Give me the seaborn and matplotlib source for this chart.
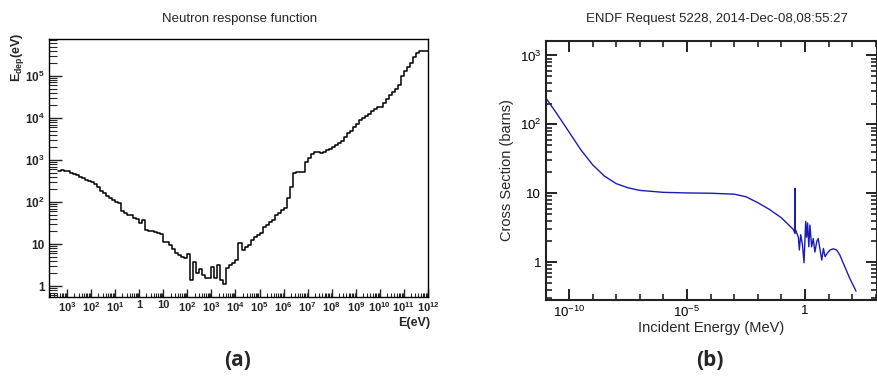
import numpy as np
import pandas as pd
import matplotlib
matplotlib.use("Agg")
import matplotlib.pyplot as plt
import matplotlib.ticker as mticker
import seaborn as sns

# ---------------- data: panel (a) histogram ----------------
bin_log_start = -3.375          # log10 of first bin edge (eV)
bin_log_width = 0.125           # 8 bins per decade
edep_values = [
    550, 575, 560, 550, 500, 470, 435, 400,
    365, 340, 315, 295, 270, 230, 180, 160,
    138, 123, 112, 102, 95, 60, 55, 50,
    48, 42, 40, 32, 37, 22, 20.5, 20,
    19, 18.5, 17.5, 11, 11, 9.5, 7.6, 6.0,
    5.5, 5.0, 4.7, 5.8, 1.4, 3.8, 2.0, 2.5,
    1.8, 1.55, 1.55, 2.9, 1.55, 3.2, 1.4, 1.1,
    2.7, 3.2, 3.5, 4.2, 10.5, 7.2, 8.3, 9.5,
    12.5, 15, 16.5, 18, 26, 28, 34, 38,
    48, 54, 63, 74, 126, 230, 490, 525,
    525, 525, 910, 1120, 1380, 1580, 1580, 1450,
    1580, 1740, 1860, 2040, 2290, 2510, 2880, 3550,
    4370, 5010, 6170, 7080, 8900, 9770, 11200, 12600,
    14800, 16600, 17800, 18600, 22400, 28200, 35500, 41700,
    50100, 60300, 100000, 132000, 166000, 209000, 282000, 355000,
    398000, 398000, 398000,
]
a_xtick_values = [1e-3, 1e-2, 1e-1, 1, 10, 1e2, 1e3, 1e4, 1e5, 1e6, 1e7, 1e8, 1e9, 1e10, 1e11, 1e12]
a_xtick_labels = ["10^3", "10^2", "10^1", "1", "10", "10^2", "10^3", "10^4", "10^5", "10^6",
                  "10^7", "10^8", "10^9", "10^10", "10^11", "10^12"]
a_ytick_values = [1, 10, 1e2, 1e3, 1e4, 1e5]
a_ytick_labels = ["1", "10", "10^2", "10^3", "10^4", "10^5"]

# ---------------- data: panel (b) cross section ----------------
energy_mev = [1.07e-11, 3.16e-11, 1e-10, 3.16e-10, 1e-9, 3.16e-9, 1e-8, 3.16e-8, 1e-7,
              1e-6, 1e-5, 1e-4, 1e-3, 3.16e-3, 1e-2, 3.16e-2, 0.1, 0.316, 0.380,
              0.380, 0.388, 0.400, 0.525, 0.575, 0.66, 0.78, 0.91, 1.07, 1.17, 1.29,
              1.45, 1.62, 1.91, 2.24, 2.63, 3.16, 3.63, 4.37, 5.13, 6.03, 7.08, 8.71,
              11.5, 15.8, 21.9, 30.2, 49, 79, 145]
xs_barns = [240, 141, 78, 43, 26, 17.8, 13.8, 12.0, 11.0,
            10.3, 10.1, 10.0, 9.7, 8.9, 7.3, 5.8, 4.4, 3.0, 2.6,
            11.8, 2.7, 2.9, 2.3, 1.5, 2.5, 1.8, 0.98, 3.9, 2.3, 3.7,
            1.67, 3.45, 1.67, 2.2, 1.4, 2.0, 2.2, 1.5, 1.07, 1.58, 1.2, 1.34,
            1.5, 1.56, 1.5, 1.26, 0.85, 0.58, 0.38]
b_xtick_values = [1e-10, 1e-5, 1]
b_xtick_labels = ["10^-10", "10^-5", "1"]
b_ytick_values = [1, 10, 1e2, 1e3]
b_ytick_labels = ["1", "10", "10^2", "10^3"]

# ---------------- style ----------------
sns.set_style("ticks")
plt.rcParams["font.family"] = ["Liberation Sans", "DejaVu Sans"]
plt.rcParams["mathtext.fontset"] = "custom"
plt.rcParams["mathtext.rm"] = "Liberation Sans"
plt.rcParams["mathtext.it"] = "Liberation Sans:italic"
plt.rcParams["mathtext.bf"] = "Liberation Sans:bold"


def to_math(lbl, bold=False):
    if "^" not in lbl:
        return lbl
    base, exp = lbl.split("^")
    if bold:
        return r"$\mathbf{%s}^{\mathbf{%s}}$" % (base, exp)
    return r"$\mathrm{%s}^{\mathrm{%s}}$" % (base, exp.replace("-", "{-}"))


fig = plt.figure(figsize=(8.78, 3.76), dpi=100)

# ---------- panel (a) ----------
ax1 = fig.add_axes([49 / 878, 1 - 297 / 376, 379 / 878, 258 / 376])
n_bins = len(edep_values)
edges = 10 ** (bin_log_start + bin_log_width * np.arange(n_bins + 1))
df_a = pd.DataFrame({"E": edges, "Edep": list(edep_values) + [edep_values[-1]]})
sns.lineplot(data=df_a, x="E", y="Edep", ax=ax1, drawstyle="steps-post",
             color="black", lw=1.1, estimator=None, sort=False)
ax1.set_xscale("log")
ax1.set_yscale("log")
ax1.set_xlim(10 ** -3.75, 1e12)
ax1.set_ylim(10 ** -0.26, 10 ** 5.88)
ax1.xaxis.set_major_locator(mticker.FixedLocator(a_xtick_values))
ax1.xaxis.set_major_formatter(mticker.FixedFormatter([to_math(l, True) for l in a_xtick_labels]))
ax1.xaxis.set_minor_locator(mticker.LogLocator(base=10, subs=np.arange(2, 10), numticks=100))
ax1.xaxis.set_minor_formatter(mticker.NullFormatter())
ax1.yaxis.set_major_locator(mticker.FixedLocator(a_ytick_values))
ax1.yaxis.set_major_formatter(mticker.FixedFormatter([to_math(l, True) for l in a_ytick_labels]))
ax1.yaxis.set_minor_locator(mticker.LogLocator(base=10, subs=np.arange(2, 10), numticks=100))
ax1.yaxis.set_minor_formatter(mticker.NullFormatter())
ax1.tick_params(axis="x", which="major", direction="in", length=6, width=1.0, labelsize=8, pad=2.5)
ax1.tick_params(axis="x", which="minor", direction="in", length=3, width=0.8)
ax1.tick_params(axis="y", which="major", direction="in", length=9, width=1.0, labelsize=8.5, pad=3)
ax1.tick_params(axis="y", which="minor", direction="in", length=5.5, width=0.8)
for lab in ax1.get_xticklabels() + ax1.get_yticklabels():
    lab.set_fontweight("bold")
for sp in ax1.spines.values():
    sp.set_visible(True)
    sp.set_linewidth(1.0)
    sp.set_color("black")
ax1.set_xlabel("")
ax1.set_ylabel("")
ax1.text(1.005, -0.078, "E(eV)", transform=ax1.transAxes, ha="right", va="top",
         fontsize=9, fontweight="bold")
ax1.text(-0.082, 1.025, r"$\mathbf{E_{dep}(eV)}$", transform=ax1.transAxes, ha="center", va="top",
         rotation=90, fontsize=9)
fig.text(240 / 878, 1 - 19 / 376, "Neutron response function", ha="center", va="center", fontsize=9.5)
fig.text(238 / 878, 1 - 360 / 376, "(a)", ha="center", va="center", fontsize=15,
         fontweight="bold", family=["Open Sans", "DejaVu Sans"])

# ---------- panel (b) ----------
ax2 = fig.add_axes([546 / 878, 1 - 300 / 376, 331 / 878, 259 / 376])
df_b = pd.DataFrame({"E": energy_mev, "xs": xs_barns})
sns.lineplot(data=df_b, x="E", y="xs", ax=ax2, color="#1c1cb4", lw=1.0,
             estimator=None, sort=False)
ax2.set_xscale("log")
ax2.set_yscale("log")
ax2.set_xlim(10 ** -10.97, 10 ** 3.05)
ax2.set_ylim(10 ** -0.55, 10 ** 3.21)
ax2.xaxis.set_major_locator(mticker.FixedLocator(b_xtick_values))
ax2.xaxis.set_major_formatter(mticker.FixedFormatter([to_math(l) for l in b_xtick_labels]))
b_minor = [10.0 ** k for k in range(-11, 4) if 10.0 ** k not in b_xtick_values]
ax2.xaxis.set_minor_locator(mticker.FixedLocator(b_minor))
ax2.xaxis.set_minor_formatter(mticker.NullFormatter())
ax2.yaxis.set_major_locator(mticker.FixedLocator(b_ytick_values))
ax2.yaxis.set_major_formatter(mticker.FixedFormatter([to_math(l) for l in b_ytick_labels]))
ax2.yaxis.set_minor_locator(mticker.LogLocator(base=10, subs=np.arange(2, 10), numticks=100))
ax2.yaxis.set_minor_formatter(mticker.NullFormatter())
ax2.tick_params(which="both", direction="in", top=True, right=True, colors="#222222",
                labelcolor="black")
ax2.tick_params(which="major", length=8, width=1.4, labelsize=9.5)
ax2.tick_params(which="minor", length=4.5, width=1.2)
for sp in ax2.spines.values():
    sp.set_visible(True)
    sp.set_linewidth(1.5)
    sp.set_color("#222222")
ax2.set_xlabel("Incident Energy (MeV)", fontsize=10.5, labelpad=1)
ax2.set_ylabel("Cross Section (barns)", fontsize=10.5, labelpad=4)
fig.text(717 / 878, 1 - 19 / 376, "ENDF Request 5228, 2014-Dec-08,08:55:27", ha="center",
         va="center", fontsize=9.5)
fig.text(710 / 878, 1 - 361 / 376, "(b)", ha="center", va="center", fontsize=15,
         fontweight="bold", family=["Open Sans", "DejaVu Sans"])

fig.savefig("out.png", dpi=100)
